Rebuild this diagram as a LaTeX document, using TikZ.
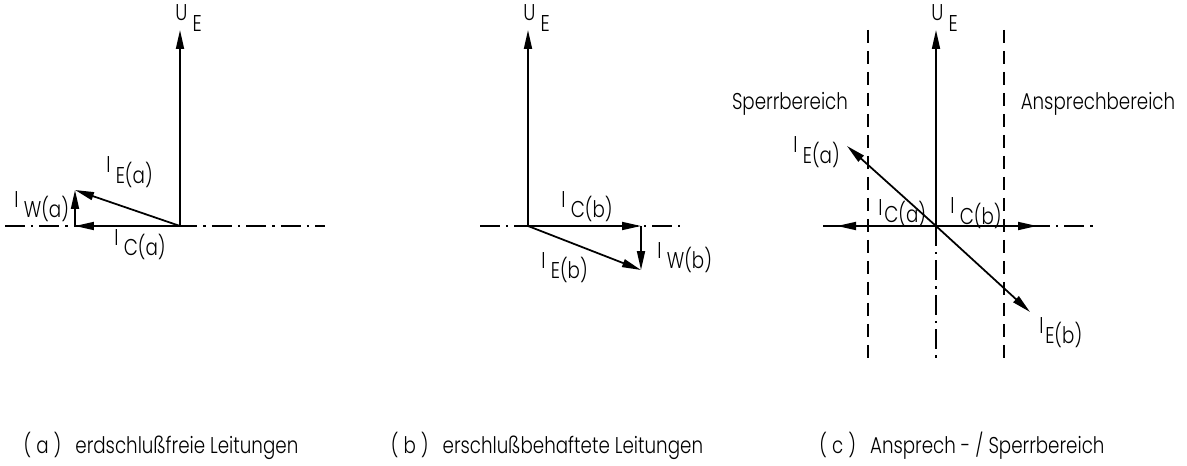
\documentclass[tikz,border=0pt]{standalone}
\usepackage{fontspec}
\setmainfont{Poppins Light}[FakeStretch=0.8]
\usetikzlibrary{arrows.meta}
\tikzstyle{vec} = [line width=1pt, -{Triangle[length=3.8mm,width=1.6mm]}]
\tikzstyle{dashdot} = [line width=1pt, dash pattern=on 0.4cm off 0.12cm on 0.05cm off 0.12cm]
\tikzstyle{limit} = [line width=1pt, dash pattern=on 0.27cm off 0.15cm]
\tikzstyle{lbl} = [inner sep=0pt, anchor=base west, font=\fontsize{13}{15}\selectfont]
\tikzstyle{caption} = [inner sep=0pt, font=\fontsize{13}{15}\selectfont]
\newcommand{\idx}[2]{#1\hspace{3pt}\raisebox{-6pt}{#2}}

\begin{document}
\begin{tikzpicture}[x=0.02cm, y=-0.02cm]
  \useasboundingbox (0,0) rectangle (1187,466);

  % (a) erdschlussfreie Leitungen
  \coordinate (Oa) at (180,226);
  \coordinate (Ua) at (180,30);
  \coordinate (Ca) at (75,226);
  \coordinate (Ea) at (75,190);
  \coordinate (La) at (5,226);
  \coordinate (Ra) at (325,226);
  \draw[dashdot] (La) -- (Ra);
  \draw[vec] (Oa) -- (Ua);
  \draw[vec] (Oa) -- (Ca);
  \draw[vec] (Ca) -- (Ea);
  \draw[vec] (Oa) -- (Ea);
  \node[lbl] (uea) at (175,21) {\idx{U}{E}};
  \node[lbl] (iea) at (106,173) {\idx{I}{E(a)}};
  \node[lbl] (iwa) at (14,207) {\idx{I}{W(a)}};
  \node[lbl] (ica) at (114,245) {\idx{I}{C(a)}};
  \node[caption] (capa) at (161,446) {( a )\hspace{8pt}erdschlußfreie Leitungen};

  % (b) erdschlussbehaftete Leitungen
  \coordinate (Ob) at (528,226);
  \coordinate (Ub) at (528,30);
  \coordinate (Cb) at (641,226);
  \coordinate (Eb) at (641,270);
  \coordinate (Lb) at (480,226);
  \coordinate (Rb) at (680,226);
  \draw[dashdot] (Lb) -- (Rb);
  \draw[vec] (Ob) -- (Ub);
  \draw[vec] (Ob) -- (Cb);
  \draw[vec] (Cb) -- (Eb);
  \draw[vec] (Ob) -- (Eb);
  \node[lbl] (ueb) at (523,21) {\idx{U}{E}};
  \node[lbl] (icb) at (561,207) {\idx{I}{C(b)}};
  \node[lbl] (ieb) at (541,268) {\idx{I}{E(b)}};
  \node[lbl] (iwb) at (657,258) {\idx{I}{W(b)}};
  \node[caption] (capb) at (547,446) {( b )\hspace{8pt}erschlußbehaftete Leitungen};

  % (c) Ansprech- / Sperrbereich
  \coordinate (Oc) at (936,226);
  \coordinate (Uc) at (936,30);
  \coordinate (Bc) at (936,360);
  \coordinate (Lc) at (823,226);
  \coordinate (Rc) at (1095,226);
  \coordinate (Ca2) at (837,226);
  \coordinate (Cb2) at (1037,226);
  \coordinate (Ea2) at (847,146);
  \coordinate (Eb2) at (1030,312);
  \coordinate (Tl) at (868,30);
  \coordinate (Bl) at (868,360);
  \coordinate (Tr) at (1004,30);
  \coordinate (Br) at (1004,360);
  \draw[limit] (Tl) -- (Bl);
  \draw[limit] (Tr) -- (Br);
  \draw[dashdot] (Lc) -- (Rc);
  \draw[dashdot] (Oc) -- (Bc);
  \draw[vec] (Oc) -- (Uc);
  \draw[vec] (Oc) -- (Ca2);
  \draw[vec] (Oc) -- (Cb2);
  \draw[vec] (Oc) -- (Ea2);
  \draw[vec] (Oc) -- (Eb2);
  \node[lbl] (uec) at (931,21) {\idx{U}{E}};
  \node[lbl] (iec1) at (793,153) {\idx{I}{E(a)}};
  \node[lbl] (icc1) at (878,215) {I\hspace{1pt}\raisebox{-4pt}{C(a)}};
  \node[lbl] (icc2) at (950,214) {\idx{I}{C(b)}};
  \node[lbl] (iec2) at (1039,333) {I\hspace{1pt}\raisebox{-6pt}{E(b)}};
  \node[caption] (sperr) at (790,104) {Sperrbereich};
  \node[caption] (ansp) at (1098,104) {Ansprechbereich};
  \node[caption] (capc) at (962,446) {( c )\hspace{8pt}Ansprech - / Sperrbereich};
\end{tikzpicture}
\end{document}
